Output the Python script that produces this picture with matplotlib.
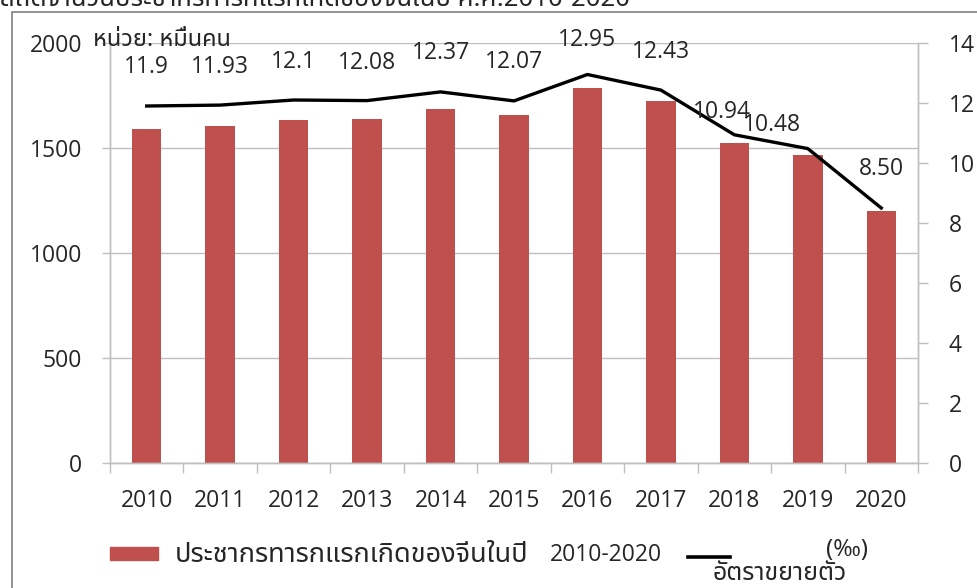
import matplotlib
matplotlib.use("Agg")
import matplotlib.pyplot as plt
from matplotlib import font_manager
from matplotlib.ft2font import FT2Font
from matplotlib.lines import Line2D
import numpy as np

# ---- data ----
years = ["2010", "2011", "2012", "2013", "2014", "2015", "2016", "2017", "2018", "2019", "2020"]
births = [1592, 1604, 1635, 1640, 1687, 1655, 1786, 1723, 1523, 1465, 1200]
growth = [11.90, 11.93, 12.10, 12.08, 12.37, 12.07, 12.95, 12.43, 10.94, 10.48, 8.50]
growth_labels = ["11.9", "11.93", "12.1", "12.08", "12.37", "12.07", "12.95", "12.43", "10.94", "10.48", "8.50"]
left_ticks = [0, 500, 1000, 1500, 2000]
right_ticks = [0, 2, 4, 6, 8, 10, 12, 14]

bar_label_th = "ประชากรทารกแรกเกิดของจีนในปี"
bar_label_num = "2010-2020"
line_label_a = "อัตราขยายตัว"
line_label_b = "(‰)"
unit_label = "หน่วย: หมื่นคน"
title_text = "สถิติจำนวนประชากรทารกแรกเกิดของจีนในปี ค.ศ.2010-2020"

# label offsets in pixels (dx, dy)
label_offsets = [(0, 39), (0, 38), (0, 38), (0, 38), (0, 39), (0, 39),
                 (0, 35), (0, 38), (-12, 23), (-36, 24), (0, 39)]

# ---- fonts ----
def find_thai_font():
    prefs = ["Noto Sans Thai", "Noto Sans Thai UI", "Loma", "Garuda", "Tlwg Typo", "Norasi",
             "Kinnari", "Sawasdee", "Umpush", "Waree", "Laksaman"]
    found = {}
    for f in font_manager.fontManager.ttflist:
        try:
            cm = FT2Font(f.fname).get_charmap()
        except Exception:
            continue
        if 0x0E1B in cm and 0x0E48 in cm:
            found.setdefault(f.name, f.fname)
    for p in prefs:
        if p in found:
            return p
    if found:
        return sorted(found)[0]
    return None

thai = find_thai_font()
num_font = "Open Sans"
thai_fam = [thai, num_font, "DejaVu Sans"] if thai else [num_font, "DejaVu Sans"]
plt.rcParams["font.family"] = [num_font, "DejaVu Sans"]

bar_color = "#C0504D"
grid_color = "#BFBFBF"
text_color = "#262626"

fig = plt.figure(figsize=(9.78, 5.88), dpi=100)
ax = fig.add_axes([110 / 978, 1 - 463 / 588, 808 / 978, 420 / 588])
ax2 = ax.twinx()

x = np.arange(len(years))
ax.bar(x, births, width=0.4, color=bar_color, zorder=2)
ax.set_xlim(-0.5, len(years) - 0.5)
ax.set_ylim(0, 2000)
ax.set_yticks(left_ticks)
ax.set_yticklabels([str(v) for v in left_ticks])
ax.yaxis.grid(True, color=grid_color, linewidth=1.0, zorder=0)
ax.set_axisbelow(True)

ax.set_xticks(x)
ax.set_xticklabels(years)
ax.set_xticks(np.arange(-0.5, len(years)), minor=True)
ax.tick_params(axis="x", which="major", length=0, pad=19, labelsize=16.5, labelcolor=text_color)
ax.tick_params(axis="x", which="minor", length=7, width=1, color=grid_color, direction="out")
ax.tick_params(axis="y", length=6, width=1, color=grid_color, pad=14, labelsize=16.5, labelcolor=text_color)

for s in ["top"]:
    ax.spines[s].set_visible(False)
    ax2.spines[s].set_visible(False)
for sp in [ax.spines["left"], ax.spines["bottom"], ax.spines["right"], ax2.spines["right"], ax2.spines["left"], ax2.spines["bottom"]]:
    sp.set_color(grid_color)
    sp.set_linewidth(1.0)

ax2.plot(x, growth, color="black", linewidth=2.4, zorder=3)
ax2.set_ylim(0, 14)
ax2.set_yticks(right_ticks)
ax2.set_yticklabels([str(v) for v in right_ticks])
ax2.tick_params(axis="y", length=7, width=1, color=grid_color, pad=15, labelsize=16.5, labelcolor=text_color)

for xi, yi, lab, (dx, dy) in zip(x, growth, growth_labels, label_offsets):
    ax2.annotate(lab, (xi, yi), xytext=(dx, dy), textcoords="offset pixels",
                 ha="center", va="center", fontsize=16.5, color=text_color)

# unit label
fig.text(93 / 978, 1 - 40 / 588, unit_label, family=thai_fam, fontsize=17,
         color=text_color, ha="left", va="center")

# legend (manual)
fig.patches.append(plt.Rectangle((110 / 978, 1 - 560 / 588), 48 / 978, 13 / 588,
                                 transform=fig.transFigure, color=bar_color, figure=fig))
fig.text(175 / 978, 1 - 555 / 588, bar_label_th, family=thai_fam, fontsize=19.5,
         color=text_color, ha="left", va="center")
fig.text(550 / 978, 1 - 555 / 588, bar_label_num, fontsize=16.5,
         color=text_color, ha="left", va="center")
fig.lines.append(Line2D([688 / 978, 730 / 978], [1 - 557 / 588, 1 - 557 / 588],
                        transform=fig.transFigure, color="black", linewidth=2.6, figure=fig))
fig.text(713 / 978, 1 - 573 / 588, line_label_a, family=thai_fam, fontsize=18,
         color=text_color, ha="left", va="center")
fig.text(826 / 978, 1 - 550 / 588, line_label_b, family=thai_fam, fontsize=17,
         color=text_color, ha="left", va="center")

# outer frame
fig.lines.append(Line2D([12 / 978, 12 / 978, 1.0], [0.0, 1 - 12 / 588, 1 - 12 / 588],
                        transform=fig.transFigure, color="#7F7F7F", linewidth=1.2, figure=fig))

# clipped title at the top (cut off in the reference as well)
fig.text(0.0, 1 - 6 / 588, title_text, family=thai_fam, fontsize=18.5,
         color=text_color, ha="left", va="baseline")

fig.savefig("out.png", dpi=100)
